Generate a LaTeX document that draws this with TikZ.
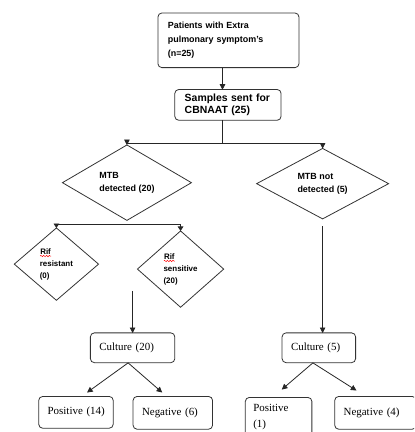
\documentclass[tikz,border=0pt]{standalone}
\usepackage{fontspec}
\setmainfont{Liberation Serif}
\setsansfont{Liberation Sans}
\usetikzlibrary{shapes.geometric,arrows.meta,decorations.pathmorphing}
\newsavebox{\rifbox}
\begin{document}
\begin{tikzpicture}[x=1pt,y=-1pt,line width=0.8pt,
  arr/.style={draw=black!85,-{Triangle[length=5pt,width=5pt]}},
  conn/.style={draw=black!85},
  sbox/.style={draw=black!80,rounded corners=4pt,inner xsep=10pt,inner ysep=0pt,
    align=left,anchor=north west,font=\sffamily\bfseries},
  rbox/.style={draw=black!80,rounded corners=4pt,inner xsep=9pt,inner ysep=0pt,
    align=left,anchor=north west,font=\fontsize{11}{16}\selectfont},
  dia/.style={draw=black!80,diamond,inner sep=0pt,align=left,
    font=\sffamily\bfseries\fontsize{9}{12.5}\selectfont}]
\sbox{\rifbox}{\sffamily\bfseries\fontsize{8}{12}\selectfont\tikz[baseline=(w.base),x=1pt,y=1pt]{\node[inner sep=0pt](w){Rif};\draw[red,line width=0.5pt,decorate,decoration={snake,amplitude=0.7pt,segment length=2.8pt}] ([yshift=-1.6pt]w.south west) -- ([yshift=-1.6pt]w.south east);}}
\useasboundingbox (0,0) rectangle (411,432);
\fill[white] (0,0) rectangle (411,432);
\clip (0,0) rectangle (411,432);

% top boxes
\node[sbox,minimum width=142pt,minimum height=55pt,text width=122pt,
  font=\sffamily\bfseries\fontsize{9}{14}\selectfont] (top) at (153,10)
  {Patients with Extra\\pulmonary symptom's\\(n=25)};
\node[sbox,minimum width=107pt,minimum height=31pt,text width=87pt,
  font=\sffamily\bfseries\fontsize{10.5}{12.5}\selectfont] (samples) at (170,87)
  {\mbox{Samples sent for}\\CBNAAT (25)};

% diamonds
\node[dia,minimum width=130pt,minimum height=58pt] (mtb) at (122,181) {MTB\\detected (20)};
\node[dia,minimum width=133pt,minimum height=61pt] (nmtb) at (319,182) {MTB not\\detected (5)};
\node[dia,font=\sffamily\bfseries\fontsize{8}{12}\selectfont,minimum width=85pt,minimum height=73pt] (rr) at (51,263) {\usebox{\rifbox}\\resistant\\(0)};
\node[dia,font=\sffamily\bfseries\fontsize{8}{12}\selectfont,minimum width=87pt,minimum height=77pt] (rs) at (176,268) {\usebox{\rifbox}\\sensitive\\(20)};

% culture boxes
\node[rbox,minimum width=85pt,minimum height=30pt,text width=67pt] (c20) at (85,332) {\mbox{Culture (20)}};
\node[rbox,minimum width=74pt,minimum height=30pt,text width=56pt] (c5) at (278,332) {\mbox{Culture (5)}};
\node[rbox,minimum width=75pt,minimum height=32pt,text width=57pt] (p14) at (33,396) {\mbox{Positive (14)}};
\node[rbox,minimum width=80pt,minimum height=33pt,text width=62pt] (n6) at (128,396) {\mbox{Negative (6)}};
\node[rbox,minimum width=67pt,minimum height=40pt,text width=51pt,inner xsep=8pt] (p1) at (241,397) {Positive\\(1)};
\node[rbox,minimum width=82pt,minimum height=33pt,text width=64pt] (n4) at (331,396) {\mbox{Negative (4)}};

% connectors
\draw[arr] ([xshift=-6pt]top.south) -- ([xshift=-6pt]top.south |- samples.north);
\draw[conn] ([xshift=-5.5pt]samples.south) -- ++(0,23) coordinate (split);
\draw[arr] (split) -| (mtb.north);
\draw[arr] (split) -| (nmtb.north);

\coordinate (barL) at (rr.north |- 0,223);
\coordinate (barR) at (rs.north |- 0,223);
\draw[conn] (barL) -- (barR);
\draw[-{Triangle[length=4pt,width=5pt]},draw=black!85] (barL) -- (rr.north);
\draw[-{Triangle[length=4pt,width=5pt]},draw=black!85] (barR) -- (rs.north);

\draw[arr] ([yshift=42pt]c20.north) -- (c20.north);
\draw[arr] ([yshift=-7pt]nmtb.south) -- (c5.north -| nmtb.south);

\draw[arr] ([xshift=-4.5pt]c20.south) -- ([xshift=11.5pt,yshift=4pt]p14.north);
\draw[arr] ([xshift=-4.5pt]c20.south) -- ([xshift=-11pt,yshift=4pt]n6.north);
\draw[arr] ([xshift=-6pt]c5.south) -- ([xshift=3.5pt,yshift=8pt]p1.north);
\draw[arr] ([xshift=-6pt]c5.south) -- ([xshift=-19.5pt,yshift=6pt]n4.north);
\end{tikzpicture}
\end{document}
